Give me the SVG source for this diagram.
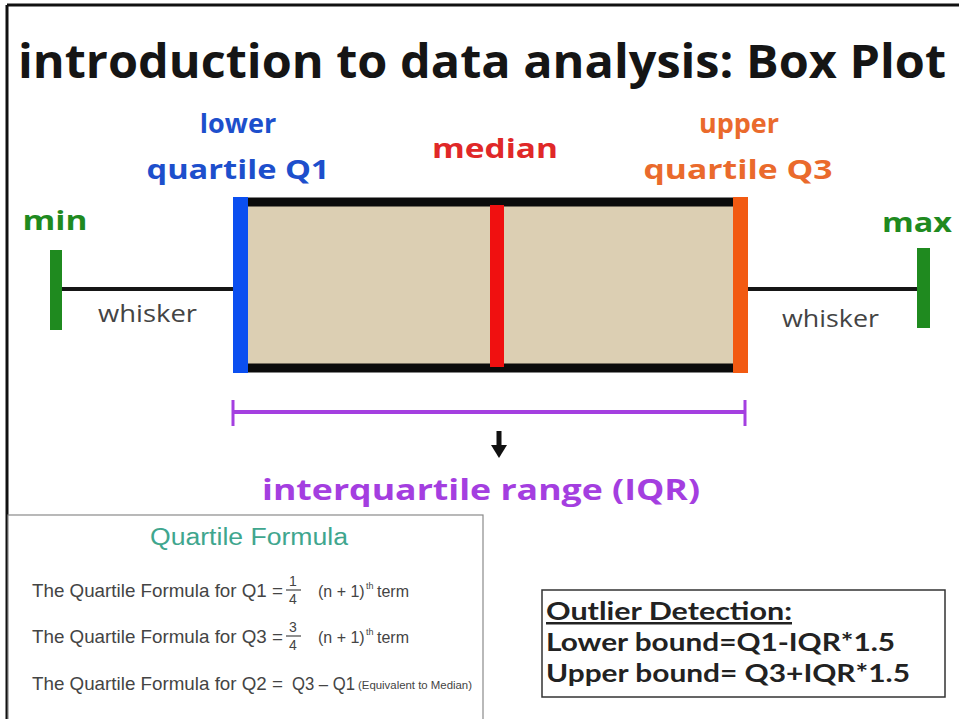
<svg xmlns="http://www.w3.org/2000/svg" width="959" height="719" viewBox="0 0 959 719">
  <style>
    .lbl { font-family: "Open Sans", "Liberation Sans", sans-serif; font-weight: 700; }
    .wh { font-family: "Open Sans", "Liberation Sans", sans-serif; font-size: 23px; fill: #444; }
    .frm { font-family: "Liberation Sans", Arial, sans-serif; fill: #444; }
    .out { font-family: "Lato", "Open Sans", sans-serif; font-weight: 700; font-size: 25px; fill: #222; }
  </style>

  <rect x="0" y="0" width="959" height="719" fill="#ffffff"/>
  <!-- page frame: top and left edges -->
  <line x1="7" y1="5" x2="959" y2="5" stroke="#111" stroke-width="3"/>
  <line x1="7" y1="5" x2="7" y2="719" stroke="#111" stroke-width="3"/>

  <!-- title -->
  <text x="18" y="78" font-family="Open Sans, Liberation Sans, sans-serif" font-weight="700" font-size="46" fill="#151515" textLength="928" lengthAdjust="spacingAndGlyphs">introduction to data analysis: Box Plot</text>

  <!-- box -->
  <g id="box">
    <rect x="241" y="202" width="500" height="166" fill="#dccfb3"/>
    <line x1="241" y1="202" x2="741" y2="202" stroke="#0b0b0b" stroke-width="9"/>
    <line x1="241" y1="368" x2="741" y2="368" stroke="#0b0b0b" stroke-width="9"/>
  </g>

  <g id="q1">
    <rect x="233" y="197" width="15" height="176" fill="#0b4ff0"/>
    <text class="lbl" x="238" y="133" font-size="27" fill="#1d4fcc" text-anchor="middle">lower</text>
    <text class="lbl" x="238" y="179" font-size="27" fill="#1d4fcc" text-anchor="middle" textLength="183" lengthAdjust="spacingAndGlyphs">quartile Q1</text>
  </g>

  <g id="median">
    <rect x="490" y="205" width="14" height="162" fill="#f01010"/>
    <text class="lbl" x="495" y="158" font-size="27" fill="#e02828" text-anchor="middle" textLength="126" lengthAdjust="spacingAndGlyphs">median</text>
  </g>

  <g id="q3">
    <rect x="733" y="197" width="15" height="176" fill="#f25a12"/>
    <text class="lbl" x="739" y="133" font-size="27" fill="#ea6a2c" text-anchor="middle">upper</text>
    <text class="lbl" x="738" y="179" font-size="27" fill="#ea6a2c" text-anchor="middle" textLength="189" lengthAdjust="spacingAndGlyphs">quartile Q3</text>
  </g>

  <g id="min">
    <rect x="50" y="250" width="12" height="80" fill="#1f8a1f"/>
    <text class="lbl" x="55" y="230" font-size="27" fill="#1f8a1f" text-anchor="middle" textLength="65" lengthAdjust="spacingAndGlyphs">min</text>
  </g>

  <g id="max">
    <rect x="917" y="248" width="13" height="80" fill="#1f8a1f"/>
    <text class="lbl" x="917" y="232" font-size="27" fill="#1f8a1f" text-anchor="middle" textLength="70" lengthAdjust="spacingAndGlyphs">max</text>
  </g>

  <g id="connectors">
    <!-- whiskers -->
    <line x1="62" y1="289" x2="233" y2="289" stroke="#161616" stroke-width="4"/>
    <line x1="748" y1="289" x2="917" y2="289" stroke="#161616" stroke-width="4"/>
    <!-- IQR bracket -->
    <line x1="233" y1="412" x2="745" y2="412" stroke="#a43fe0" stroke-width="4"/>
    <line x1="233" y1="400" x2="233" y2="426" stroke="#a43fe0" stroke-width="3"/>
    <line x1="745" y1="400" x2="745" y2="426" stroke="#a43fe0" stroke-width="3"/>
    <!-- down arrow -->
    <rect x="496.5" y="431" width="5" height="15" fill="#111"/>
    <polygon points="491,445 507,445 499,458" fill="#111"/>
  </g>

  <text class="wh" x="98" y="322" textLength="99" lengthAdjust="spacingAndGlyphs">whisker</text>
  <text class="wh" x="782" y="327" textLength="97" lengthAdjust="spacingAndGlyphs">whisker</text>

  <text class="lbl" x="481" y="500" font-size="29" fill="#a43ee0" text-anchor="middle" textLength="438" lengthAdjust="spacingAndGlyphs">interquartile range (IQR)</text>

  <!-- quartile formula panel -->
  <g id="formula">
    <rect x="8" y="515" width="475" height="210" fill="#ffffff" stroke="#8a8a8a" stroke-width="1.2"/>
    <text x="249" y="545" font-family="Liberation Sans, Arial, sans-serif" font-size="23" fill="#3fa68e" text-anchor="middle" textLength="198" lengthAdjust="spacingAndGlyphs">Quartile Formula</text>

    <text class="frm" x="32" y="597" font-size="18.5" textLength="251" lengthAdjust="spacingAndGlyphs">The Quartile Formula for Q1 =</text>
    <text class="frm" x="293" y="586" font-size="14" text-anchor="middle">1</text>
    <line x1="286" y1="590" x2="301" y2="590" stroke="#444" stroke-width="1.2"/>
    <text class="frm" x="293" y="604" font-size="14" text-anchor="middle">4</text>
    <text class="frm" x="318" y="597" font-size="16">(n + 1)</text>
    <text class="frm" x="366" y="589" font-size="9">th</text>
    <text class="frm" x="377" y="597" font-size="16">term</text>

    <text class="frm" x="32" y="643" font-size="18.5" textLength="251" lengthAdjust="spacingAndGlyphs">The Quartile Formula for Q3 =</text>
    <text class="frm" x="293" y="632" font-size="14" text-anchor="middle">3</text>
    <line x1="286" y1="636" x2="301" y2="636" stroke="#444" stroke-width="1.2"/>
    <text class="frm" x="293" y="650" font-size="14" text-anchor="middle">4</text>
    <text class="frm" x="318" y="643" font-size="16">(n + 1)</text>
    <text class="frm" x="366" y="635" font-size="9">th</text>
    <text class="frm" x="377" y="643" font-size="16">term</text>

    <text class="frm" x="32" y="690" font-size="18.5" textLength="251" lengthAdjust="spacingAndGlyphs">The Quartile Formula for Q2 =</text>
    <text class="frm" x="292" y="690" font-size="18" textLength="63" lengthAdjust="spacingAndGlyphs">Q3 – Q1</text>
    <text class="frm" x="358" y="689" font-size="11.5" textLength="114" lengthAdjust="spacingAndGlyphs">(Equivalent to Median)</text>
  </g>

  <!-- outlier detection panel -->
  <g id="outlier">
    <rect x="542" y="590" width="403" height="107" fill="#ffffff" stroke="#333" stroke-width="1.5"/>
    <text class="out" x="546" y="620" text-decoration="underline" textLength="246" lengthAdjust="spacingAndGlyphs">Outlier Detection:</text>
    <text class="out" x="546" y="651" textLength="349" lengthAdjust="spacingAndGlyphs">Lower bound=Q1-IQR*1.5</text>
    <text class="out" x="546" y="682" textLength="364" lengthAdjust="spacingAndGlyphs">Upper bound= Q3+IQR*1.5</text>
  </g>
</svg>
